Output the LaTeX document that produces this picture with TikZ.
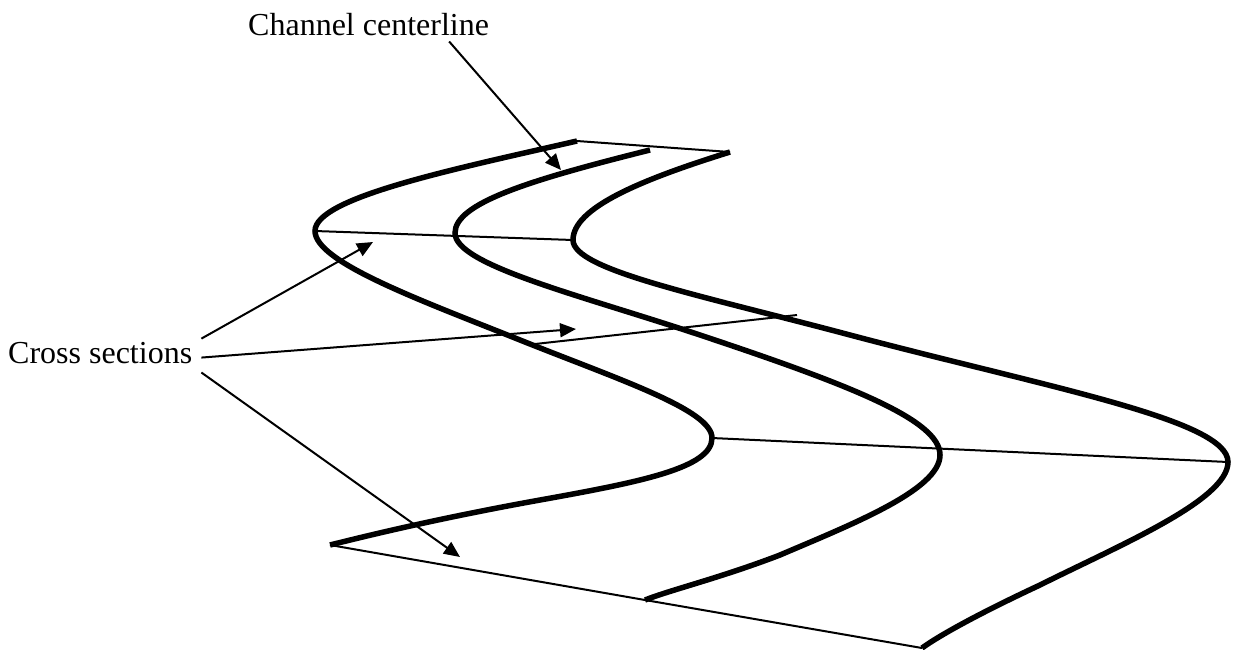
\documentclass[tikz,border=0pt]{standalone}
\usepackage{fontspec}
\setmainfont{Liberation Serif}
\usetikzlibrary{arrows.meta,calc}
\begin{document}
\begin{tikzpicture}[x=1pt,y=-1pt,
  bank/.style={line width=5.5pt},
  sect/.style={line width=2pt},
  lbl/.style={font=\fontsize{32}{38}\selectfont, inner sep=0pt},
  ptr/.style={line width=2pt,-{Triangle[length=16pt,width=14pt]}}]
\useasboundingbox (0,0) rectangle (1236,649);
% labels
\node[lbl,anchor=base west] (cc) at (248,35) {Channel centerline};
\node[lbl,anchor=base west] (cs) at (8,363) {Cross sections};
% key points
\coordinate (A0) at (577,141); \coordinate (A1) at (315,231);
\coordinate (A2) at (712,438); \coordinate (A3) at (330,545);
\coordinate (B0) at (650,150); \coordinate (B1) at (455,233);
\coordinate (B2) at (940,455); \coordinate (B3) at (645,600);
\coordinate (C0) at (730,152); \coordinate (C1) at (573,240);
\coordinate (C2) at (1228,462); \coordinate (C3) at (922,648);
\coordinate (X1) at (535,344); \coordinate (X2) at (797,315);
\coordinate (T0) at (561,170); \coordinate (T1) at (373,242);
\coordinate (T2) at (576,329); \coordinate (T3) at (460,557);
% banks and centerline
\draw[bank] (A0) .. controls (450,170) and (315,198) .. (A1)
  .. controls (315,262) and (420,300) .. (520,340)
  .. controls (620,380) and (712,410) .. (A2)
  .. controls (712,468) and (640,482) .. (540,500)
  .. controls (440,518) and (370,535) .. (A3);
\draw[bank] (B0) .. controls (530,180) and (455,203) .. (B1)
  .. controls (455,265) and (580,295) .. (700,335)
  .. controls (850,385) and (940,420) .. (B2)
  .. controls (940,490) and (850,525) .. (780,555)
  .. controls (720,578) and (670,590) .. (B3);
\draw[bank] (C0) .. controls (640,180) and (573,208) .. (C1)
  .. controls (573,270) and (700,295) .. (850,335)
  .. controls (1050,388) and (1228,420) .. (C2)
  .. controls (1228,500) and (1120,545) .. (1040,585)
  .. controls (980,613) and (940,635) .. (C3);
% cross sections
\draw[sect] (A0) -- (C0);
\draw[sect] (A1) -- (C1);
\draw[sect] (X1) -- (X2);
\draw[sect] (A2) -- (C2);
\draw[sect] (A3) -- (B3) -- (C3);
% pointers
\draw[ptr] ($(cc.south east)+(-40,6)$) -- (T0);
\draw[ptr] ($(cs.north east)+(9,-3)$) -- (T1);
\draw[ptr] ($(cs.east)+(9,5)$) -- (T2);
\draw[ptr] ($(cs.south east)+(9,9)$) -- (T3);
\end{tikzpicture}
\end{document}
